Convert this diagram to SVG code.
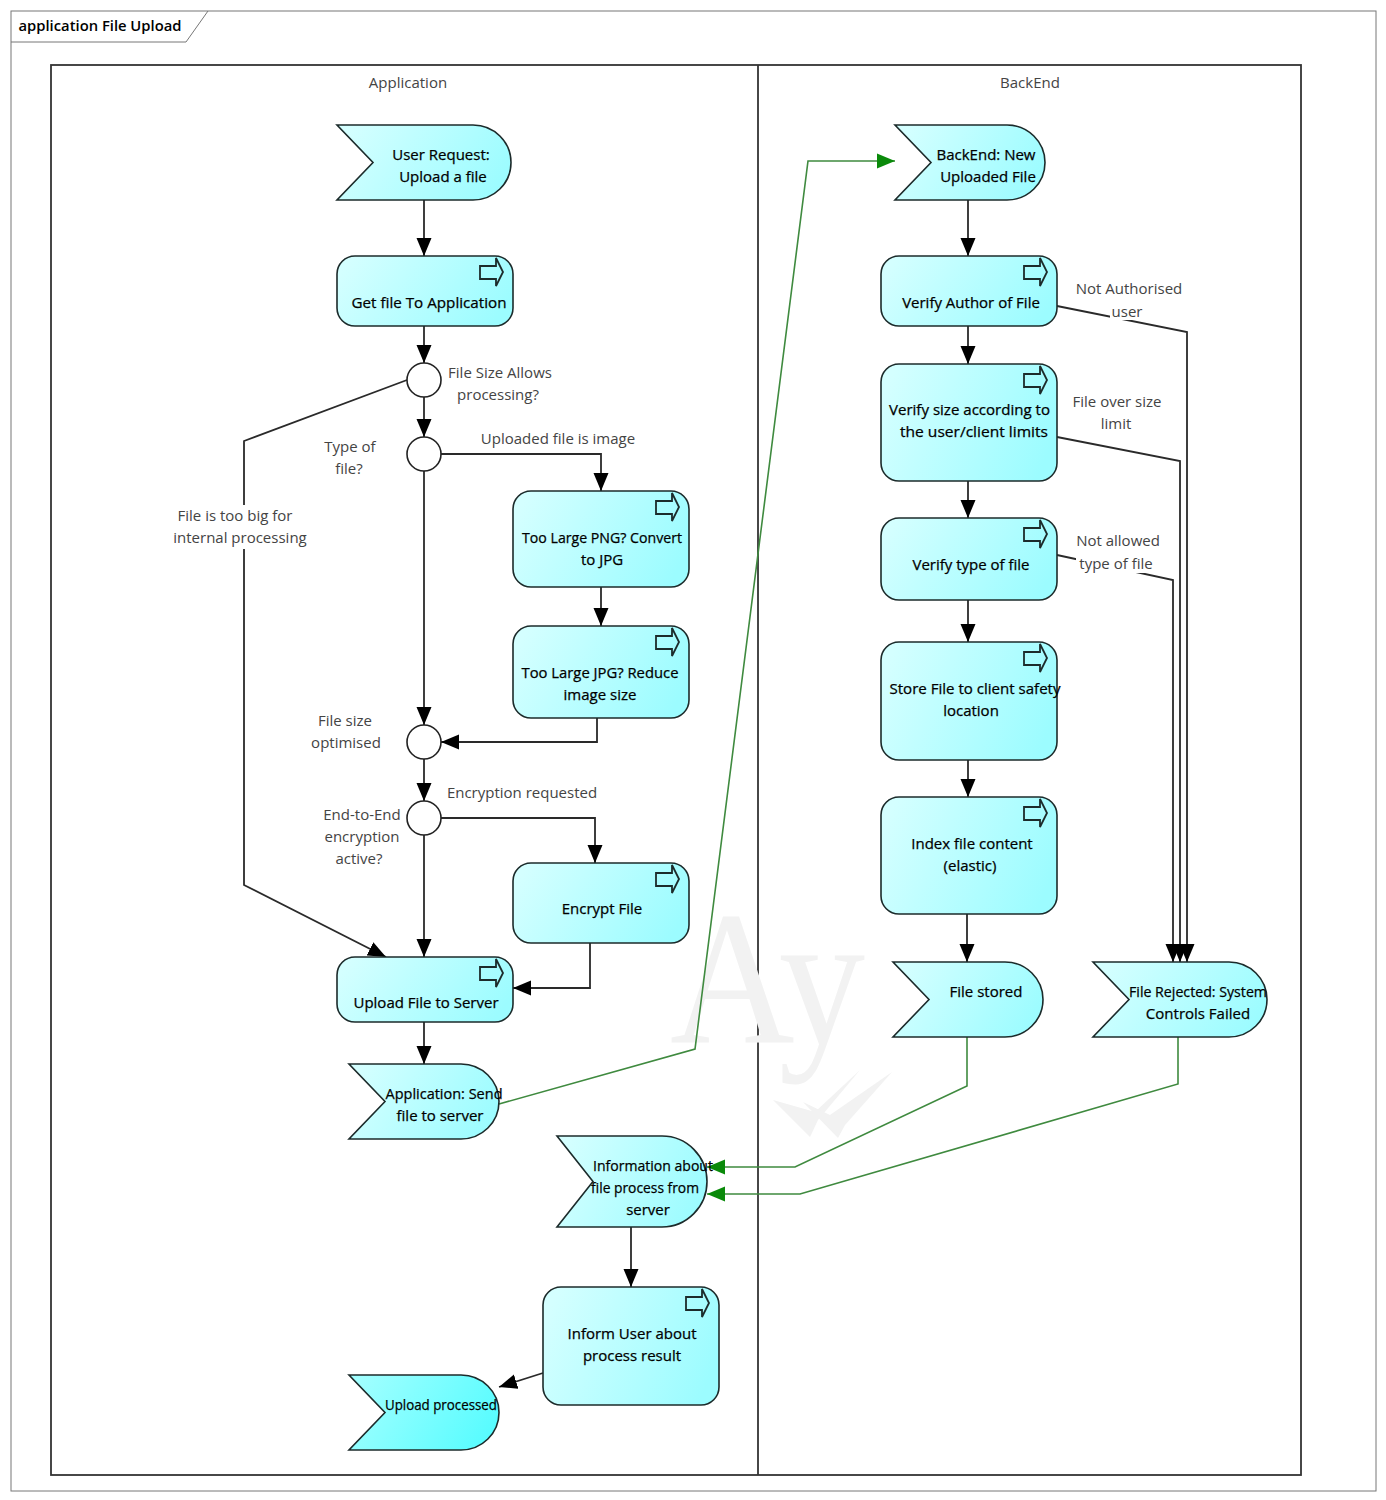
<svg xmlns="http://www.w3.org/2000/svg" width="1386" height="1500" viewBox="0 0 1386 1500">
<style>
text{font-family:"Open Sans","Noto Sans","Liberation Sans",sans-serif;font-size:15px;text-anchor:middle}
.n{fill:#000;font-weight:500;stroke:#000;stroke-width:.25}
.l{fill:#444}
.s{stroke:#1c2b2b;stroke-width:1.6;fill:url(#g)}
.c{fill:none;stroke:#2a2a2a;stroke-width:1.8;marker-end:url(#a)}
.gc{fill:none;stroke:#3f8a3f;stroke-width:1.6;marker-end:url(#ga)}
.ci{fill:#fff;stroke:#222;stroke-width:1.6}
.ic{fill:none;stroke:#1c2b2b;stroke-width:1.8}
.f{fill:none;stroke:#333;stroke-width:1.8}
</style>
<defs>
<linearGradient id="g" x1="0" y1="0.3" x2="1" y2="0.6"><stop offset="0" stop-color="#d4ffff"/><stop offset="1" stop-color="#9cfcff"/></linearGradient>
<linearGradient id="g2" x1="0" y1="0.3" x2="1" y2="0.6"><stop offset="0" stop-color="#a0ffff"/><stop offset="1" stop-color="#58fcff"/></linearGradient>
<marker id="a" markerUnits="userSpaceOnUse" markerWidth="18" markerHeight="16" refX="18" refY="8" orient="auto"><path d="M0 0.500L18 8L0 15.500Z" fill="#000"/></marker>
<marker id="ga" markerUnits="userSpaceOnUse" markerWidth="18" markerHeight="16" refX="18" refY="8" orient="auto"><path d="M0 0.500L18 8L0 15.500Z" fill="#0a8a0a"/></marker>
<path id="i" class="ic" d="M-33 10H-17V2L-10 16L-17 30V23H-33Z"/>
</defs>
<rect width="1386" height="1500" fill="#fff"/>
<g id="frame">
<rect x="11" y="11" width="1365" height="1480" fill="none" stroke="#777" stroke-width="1"/>
<path d="M11 42H186L208 11" fill="none" stroke="#777"/>
<text x="100" y="31" class="n" textLength="163" lengthAdjust="spacingAndGlyphs" style="font-weight:600;stroke:none">application File Upload</text>
</g>
<g id="pools">
<rect x="51" y="65" width="1250" height="1410" class="f"/>
<path d="M758 65V1475" class="f"/>
<text x="408" y="88" class="l">Application</text>
<text x="1030" y="88" class="l">BackEnd</text>
</g>
<g id="watermark" fill="#f2f2f2">
<text x="670" y="1043" textLength="195" lengthAdjust="spacingAndGlyphs" style="font-family:'Liberation Serif',serif;font-size:190px;fill:#f2f2f2;text-anchor:start">Ay</text>
<path d="M773 1100L815 1112L860 1070L818 1120L810 1137Z"/>
<path d="M803 1102L830 1115L892 1072L845 1125L838 1138Z"/>
</g>
<g id="connectors">
<path class="c" d="M424 200V256"/>
<path class="c" d="M424 326V363"/>
<path class="c" d="M424 397V437"/>
<path class="c" d="M424 471V725"/>
<path class="c" d="M441 454H601V491"/>
<path class="c" d="M601 587V626"/>
<path class="c" d="M597 718V742H441"/>
<path class="c" d="M424 759V801"/>
<path class="c" d="M424 835V957"/>
<path class="c" d="M441 818H595V863"/>
<path class="c" d="M590 943V988H513"/>
<path class="c" d="M407 380L244 441V885L386 957"/>
<path class="c" d="M424 1022V1064"/>
<path class="gc" d="M499 1104L695 1049L808 161H895"/>
<path class="c" d="M968 200V256"/>
<path class="c" d="M968 326V364"/>
<path class="c" d="M968 481V518"/>
<path class="c" d="M968 600V642"/>
<path class="c" d="M968 760V797"/>
<path class="c" d="M967 914V962"/>
<path class="c" d="M1057 306L1187 332V962"/>
<path class="c" d="M1057 437L1180 461V962"/>
<path class="c" d="M1057 555L1173 580V962"/>
<path class="gc" d="M967 1037V1086L795 1167H707"/>
<path class="gc" d="M1178 1037V1084L800 1194H707"/>
<path class="c" d="M631 1227V1287"/>
<path class="c" d="M543 1373L499 1387"/>
</g>
<g id="e1"><path class="s" d="M337 125H473A38 37.500 0 0 1 473 200H337L373 162.500Z"/><text x="441" y="160" class="n">User Request:</text><text x="443" y="182" class="n">Upload a file</text></g>
<g id="a1"><rect class="s" x="337" y="256" width="176" height="70" rx="18"/><use href="#i" x="513" y="256"/><text x="429" y="308" class="n" textLength="155" lengthAdjust="spacingAndGlyphs">Get file To Application</text></g>
<g id="d1"><circle class="ci" cx="424" cy="380" r="17"/></g>
<g id="d2"><circle class="ci" cx="424" cy="454" r="17"/></g>
<g id="d3"><circle class="ci" cx="424" cy="742" r="17"/></g>
<g id="d4"><circle class="ci" cx="424" cy="818" r="17"/></g>
<g id="a2"><rect class="s" x="513" y="491" width="176" height="96" rx="18"/><use href="#i" x="689" y="491"/><text x="602" y="543" class="n" textLength="160" lengthAdjust="spacingAndGlyphs">Too Large PNG? Convert</text><text x="602" y="565" class="n">to JPG</text></g>
<g id="a3"><rect class="s" x="513" y="626" width="176" height="92" rx="18"/><use href="#i" x="689" y="626"/><text x="600" y="678" class="n" textLength="157" lengthAdjust="spacingAndGlyphs">Too Large JPG? Reduce</text><text x="600" y="700" class="n">image size</text></g>
<g id="a4"><rect class="s" x="513" y="863" width="176" height="80" rx="18"/><use href="#i" x="689" y="863"/><text x="602" y="914" class="n">Encrypt File</text></g>
<g id="a5"><rect class="s" x="337" y="957" width="176" height="65" rx="18"/><use href="#i" x="513" y="957"/><text x="426" y="1008" class="n">Upload File to Server</text></g>
<g id="e2"><path class="s" d="M349 1064H461A38 37.500 0 0 1 461 1139H349L385 1101.500Z"/><text x="444" y="1099" class="n" textLength="117" lengthAdjust="spacingAndGlyphs">Application: Send</text><text x="440" y="1121" class="n">file to server</text></g>
<g id="e3"><path class="s" d="M895 125H1007A38 37.500 0 0 1 1007 200H895L931 162.500Z"/><text x="986" y="160" class="n">BackEnd: New</text><text x="988" y="182" class="n">Uploaded File</text></g>
<g id="b1"><rect class="s" x="881" y="256" width="176" height="70" rx="18"/><use href="#i" x="1057" y="256"/><text x="971" y="308" class="n">Verify Author of File</text></g>
<g id="b2"><rect class="s" x="881" y="364" width="176" height="117" rx="18"/><use href="#i" x="1057" y="364"/><text x="969.500" y="415" class="n" textLength="161" lengthAdjust="spacingAndGlyphs">Verify size according to</text><text x="974" y="437" class="n" textLength="148" lengthAdjust="spacingAndGlyphs">the user/client limits</text></g>
<g id="b3"><rect class="s" x="881" y="518" width="176" height="82" rx="18"/><use href="#i" x="1057" y="518"/><text x="971" y="570" class="n">Verify type of file</text></g>
<g id="b4"><rect class="s" x="881" y="642" width="176" height="118" rx="18"/><use href="#i" x="1057" y="642"/><text x="975" y="694" class="n" textLength="171" lengthAdjust="spacingAndGlyphs">Store File to client safety</text><text x="971" y="716" class="n">location</text></g>
<g id="b5"><rect class="s" x="881" y="797" width="176" height="117" rx="18"/><use href="#i" x="1057" y="797"/><text x="972" y="849" class="n">Index file content</text><text x="970" y="871" class="n">(elastic)</text></g>
<g id="e4"><path class="s" d="M893 962H1005A38 37.500 0 0 1 1005 1037H893L929 999.500Z"/><text x="986" y="997" class="n">File stored</text></g>
<g id="e5"><path class="s" d="M1093 962H1229A38 37.500 0 0 1 1229 1037H1093L1129 999.500Z"/><text x="1198" y="997" class="n" textLength="138" lengthAdjust="spacingAndGlyphs">File Rejected: System</text><text x="1198" y="1019" class="n">Controls Failed</text></g>
<g id="e6"><path class="s" d="M557 1136H662A45 45.500 0 0 1 662 1227H557L593 1181.500Z"/><text x="653" y="1171" class="n" textLength="120" lengthAdjust="spacingAndGlyphs">Information about</text><text x="645" y="1193" class="n" textLength="108" lengthAdjust="spacingAndGlyphs">file process from</text><text x="648" y="1215" class="n">server</text></g>
<g id="a6"><rect class="s" x="543" y="1287" width="176" height="118" rx="18"/><use href="#i" x="719" y="1287"/><text x="632" y="1339" class="n">Inform User about</text><text x="632" y="1361" class="n">process result</text></g>
<g id="e7"><path class="s" style="fill:url(#g2)" d="M349 1375H461A38 37.500 0 0 1 461 1450H349L385 1412.500Z"/><text x="441" y="1410" class="n" textLength="112" lengthAdjust="spacingAndGlyphs">Upload processed</text></g>
<g id="labels">
<text x="500" y="378" class="l">File Size Allows</text><text x="498" y="400" class="l">processing?</text>
<text x="350" y="452" class="l">Type of</text><text x="349" y="474" class="l">file?</text>
<text x="558" y="444" class="l">Uploaded file is image</text>
<rect x="172" y="505" width="136" height="44" fill="#fff"/>
<text x="235" y="521" class="l">File is too big for</text><text x="240" y="543" class="l">internal processing</text>
<text x="345" y="726" class="l">File size</text><text x="346" y="748" class="l">optimised</text>
<text x="522" y="798" class="l">Encryption requested</text>
<text x="362" y="820" class="l">End-to-End</text><text x="362" y="842" class="l">encryption</text><text x="359" y="864" class="l">active?</text>
<rect x="1110" y="303" width="36" height="17" fill="#fff"/>
<text x="1129" y="294" class="l">Not Authorised</text><text x="1127" y="317" class="l">user</text>
<text x="1117" y="407" class="l">File over size</text><text x="1116" y="429" class="l">limit</text>
<rect x="1076" y="555" width="80" height="18" fill="#fff"/>
<text x="1118" y="546" class="l">Not allowed</text><text x="1116" y="569" class="l">type of file</text>
</g>
</svg>
